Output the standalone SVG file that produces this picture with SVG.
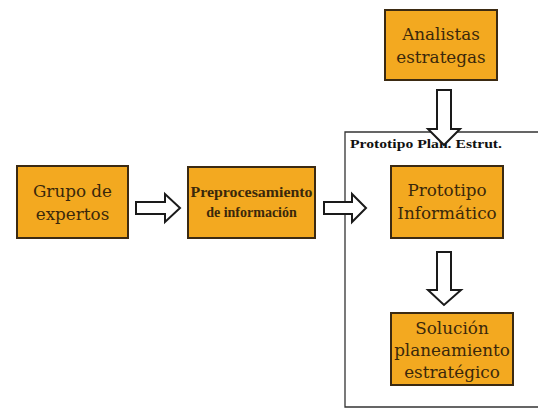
<svg xmlns="http://www.w3.org/2000/svg" width="538" height="409" viewBox="0 0 538 409">
  <style>
    .box { fill: #F3A920; stroke: #3b2a12; stroke-width: 2; }
    .lbl { fill: #3a280b; text-anchor: middle; font-family: "DejaVu Serif", "Liberation Serif", serif; font-size: 16.8px; }
    .arrow { fill: #ffffff; stroke: #1a1a1a; stroke-width: 2; stroke-linejoin: miter; }
    .frame { fill: none; stroke: #333333; stroke-width: 1.3; }
  </style>
  <rect width="538" height="409" fill="#ffffff"/>

  <!-- prototype boundary -->
  <g id="frame">
    <polyline class="frame" points="538,132 345,132 345,407 538,407"/>
    <text x="350" y="148" font-family="Liberation Serif, DejaVu Serif, serif" font-weight="bold" font-size="13" fill="#111" textLength="152" lengthAdjust="spacingAndGlyphs">Prototipo Plan. Estrut.</text>
  </g>

  <g id="grupo">
    <rect class="box" x="17" y="166" width="111" height="72"/>
    <text class="lbl" x="72.5" y="197">Grupo de</text>
    <text class="lbl" x="72.5" y="220">expertos</text>
  </g>

  <g id="preprocesamiento">
    <rect class="box" x="188" y="167" width="127" height="71"/>
    <text class="lbl" style="font-size:14px;font-family:'Liberation Serif','DejaVu Serif',serif;font-weight:bold" x="251.5" y="197" textLength="122" lengthAdjust="spacingAndGlyphs">Preprocesamiento</text>
    <text class="lbl" style="font-size:14px;font-family:'Liberation Serif','DejaVu Serif',serif;font-weight:bold" x="251.5" y="217">de información</text>
  </g>

  <g id="analistas">
    <rect class="box" x="385" y="10" width="112" height="70"/>
    <text class="lbl" x="441" y="40">Analistas</text>
    <text class="lbl" x="441" y="63">estrategas</text>
  </g>

  <g id="prototipo">
    <rect class="box" x="391" y="166" width="112" height="72"/>
    <text class="lbl" x="447" y="196">Prototipo</text>
    <text class="lbl" x="447" y="219">Informático</text>
  </g>

  <g id="solucion">
    <rect class="box" x="391" y="313" width="122" height="72"/>
    <text class="lbl" x="452" y="334">Solución</text>
    <text class="lbl" x="452" y="356">planeamiento</text>
    <text class="lbl" x="452" y="378">estratégico</text>
  </g>

  <!-- block arrows -->
  <g id="connectors">
    <polygon class="arrow" points="136,202 165,202 165,194 180,208 165,222 165,214 136,214"/>
    <polygon class="arrow" points="324,202 352,202 352,194 366,208 352,222 352,214 324,214"/>
    <polygon class="arrow" points="437,90 451,90 451,129 460,129 444,145 428,129 437,129"/>
    <polygon class="arrow" points="437,252 451,252 451,290 461,290 444,305 428,290 437,290"/>
  </g>
</svg>
